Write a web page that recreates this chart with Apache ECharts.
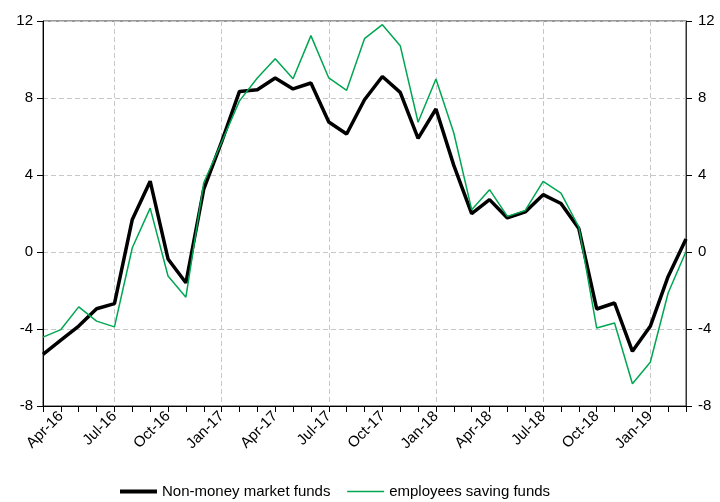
<!DOCTYPE html>
<html>
<head>
<meta charset="utf-8">
<script src="https://cdn.jsdelivr.net/npm/echarts@6/dist/echarts.min.js"></script>
<style>html,body{margin:0;padding:0;background:#fff;}#c{width:720px;height:502px;}</style>
</head>
<body>
<div id="c"></div>
<script>
const months = ["Mar-16","Apr-16","May-16","Jun-16","Jul-16","Aug-16","Sep-16","Oct-16","Nov-16","Dec-16",
"Jan-17","Feb-17","Mar-17","Apr-17","May-17","Jun-17","Jul-17","Aug-17","Sep-17","Oct-17","Nov-17","Dec-17",
"Jan-18","Feb-18","Mar-18","Apr-18","May-18","Jun-18","Jul-18","Aug-18","Sep-18","Oct-18","Nov-18","Dec-18",
"Jan-19","Feb-19","Mar-19"];
const nonMoney = [-5.32,-4.58,-3.85,-2.95,-2.68,1.69,3.68,-0.36,-1.6,3.27,
5.72,8.34,8.43,9.04,8.47,8.78,6.75,6.13,7.91,9.12,8.29,5.9,
7.43,4.5,1.99,2.72,1.77,2.08,2.98,2.52,1.22,-2.96,-2.65,-5.16,
-3.86,-1.27,0.68];
const employees = [-4.42,-4.03,-2.85,-3.59,-3.89,0.22,2.28,-1.25,-2.35,3.6,
5.7,7.85,9.04,10.04,9.0,11.24,9.04,8.4,11.08,11.81,10.72,6.74,
8.99,6.18,2.2,3.24,1.85,2.16,3.67,3.06,1.3,-3.95,-3.69,-6.84,
-5.73,-2.13,0.03];
const yMin = -8, yMax = 12, yStep = 4;

const chart = echarts.init(document.getElementById('c'));
const font = 'Liberation Sans, Arial, sans-serif';
const dash = {color:'#c8c8c8', width:1, type:[5,3]};
chart.setOption({
  animation:false,
  backgroundColor:'#fff',
  textStyle:{fontFamily:font},
  grid:{left:43, right:34, top:21, bottom:96, show:true, borderColor:'#333', borderWidth:1, backgroundColor:'transparent'},
  legend:{
    left:113, top:479, itemWidth:37, itemHeight:14, itemGap:16,
    itemStyle:{opacity:0},
    textStyle:{fontFamily:font, fontSize:15, color:'#000', padding:[0,0,0,0]},
    data:[
      {name:'Non-money market funds', lineStyle:{width:4, color:'#000'}},
      {name:'employees saving funds', lineStyle:{width:1.5, color:'#00a651'}}
    ]
  },
  xAxis:{
    type:'category', data:months, boundaryGap:false,
    axisLine:{show:true, onZero:false, lineStyle:{color:'#000', width:1}},
    axisTick:{show:true, interval:0, length:6, lineStyle:{color:'#000'}},
    axisLabel:{interval:(i)=>i%3===1, rotate:45, margin:8, fontSize:15, color:'#000', fontFamily:font},
    splitLine:{show:true, interval:(i)=>i%6===4, lineStyle:dash}
  },
  yAxis:[{
    type:'value', min:yMin, max:yMax, interval:yStep, position:'left',
    axisLine:{show:true, lineStyle:{color:'#000', width:1}},
    axisTick:{show:true, length:6, lineStyle:{color:'#000'}},
    axisLabel:{fontSize:15, color:'#000', margin:10, fontFamily:font},
    splitLine:{show:true, lineStyle:dash}
  },{
    type:'value', min:yMin, max:yMax, interval:yStep, position:'right',
    axisLine:{show:true, lineStyle:{color:'#333', width:1}},
    axisTick:{show:true, length:6, lineStyle:{color:'#000'}},
    axisLabel:{fontSize:15, color:'#000', margin:12, fontFamily:font},
    splitLine:{show:false}
  }],
  series:[{
    name:'Non-money market funds', type:'line', data:nonMoney, symbol:'none',
    lineStyle:{color:'#000', width:3.5}, itemStyle:{color:'#000'}, z:2
  },{
    name:'employees saving funds', type:'line', data:employees, symbol:'none',
    lineStyle:{color:'#00a651', width:1.5}, itemStyle:{color:'#00a651'}, z:3
  }]
});
</script>
</body>
</html>
